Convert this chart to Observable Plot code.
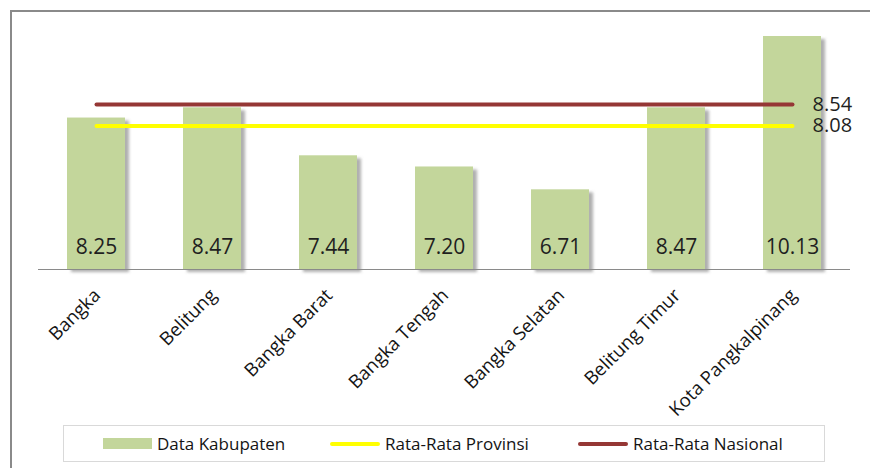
<!DOCTYPE html>
<html>
<head>
<meta charset="utf-8">
<script src="https://cdn.jsdelivr.net/npm/d3@7"></script>
<script src="https://cdn.jsdelivr.net/npm/@observablehq/plot@0.6"></script>
<style>
  html, body { margin: 0; padding: 0; background: #fff; overflow: hidden; }
  #wrap { position: relative; width: 870px; height: 468px; }
  #frame { position: absolute; left: 10px; top: 10px; width: 900px; height: 500px;
           border: 2px solid #8a8a8a; box-sizing: border-box; pointer-events: none; }
  #chart svg { display: block; }
  #legend { position: absolute; left: 63px; top: 425px; width: 762px; height: 37px;
            box-sizing: border-box; border: 1px solid #d9d9d9; background: #fff;
            display: flex; align-items: center; padding-left: 39px;
            font-family: "Open Sans", sans-serif; font-size: 17px; color: #141414; }
  .sw { display: inline-block; width: 49px; height: 11px; margin-right: 5px; flex: none; }
  .ln { display: inline-block; width: 50px; height: 4px; border-radius: 2px; margin-right: 5px; flex: none; }
  .lt { display: inline-block; white-space: nowrap; }
</style>
</head>
<body>
<div id="wrap">
  <div id="chart"></div>
  <div id="legend"></div>
  <div id="frame"></div>
</div>
<script>
const categories = ["Bangka", "Belitung", "Bangka Barat", "Bangka Tengah", "Bangka Selatan", "Belitung Timur", "Kota Pangkalpinang"];
const values = [8.25, 8.47, 7.44, 7.20, 6.71, 8.47, 10.13];
const rataProvinsi = 8.08;
const rataNasional = 8.54;
const yDomain = [5, 10];
const seriesNames = ["Data Kabupaten", "Rata-Rata Provinsi", "Rata-Rata Nasional"];
const seriesColors = ["#c3d69b", "#ffff00", "#953735"];

const data = categories.map((name, i) => ({name, value: values[i]}));
const yMin = yDomain[0], yMax = yDomain[1];
const provLine = categories.map(name => ({name, value: rataProvinsi}));
const nasLine = categories.map(name => ({name, value: rataNasional}));
const lastCat = categories[categories.length - 1];
const avgLabels = [
  {name: lastCat, value: rataNasional},
  {name: lastCat, value: rataProvinsi}
];

const font = "'Open Sans', sans-serif";

const chart = Plot.plot({
  width: 870,
  height: 426,
  marginTop: 36,
  marginBottom: 157,
  marginLeft: 38,
  marginRight: 20,
  style: {fontFamily: font, color: "#1a1a1a", background: "transparent"},
  x: {domain: categories, paddingInner: 0.5, paddingOuter: 0.25, axis: null},
  y: {domain: yDomain, axis: null},
  marks: [
    Plot.rectY(data, {x: "name", y1: () => yMin, y2: d => Math.min(d.value, yMax),
      fill: "#6f6f6f", fillOpacity: 0.55, dx: 4, dy: 3}),
    Plot.barY(data, {x: "name", y1: () => yMin, y2: d => Math.min(d.value, yMax), fill: seriesColors[0]}),
    Plot.ruleY([yMin], {stroke: "#8a8a8a", strokeWidth: 1.2}),
    Plot.text(data, {x: "name", text: d => d.value.toFixed(2), frameAnchor: "bottom",
      dy: -16, lineAnchor: "bottom", fontSize: 21, fill: "#1f1f1f"}),
    Plot.lineY(nasLine, {x: "name", y: "value", stroke: seriesColors[2], strokeWidth: 4, strokeLinecap: "round"}),
    Plot.lineY(provLine, {x: "name", y: "value", stroke: seriesColors[1], strokeWidth: 4, strokeLinecap: "round"}),
    Plot.text(avgLabels, {x: "name", y: "value", text: d => d.value.toFixed(2),
      textAnchor: "start", lineAnchor: "middle", dx: 20, fontSize: 20, fill: "#1f1f1f"}),
    Plot.text(categories, {x: d => d, text: d => d, frameAnchor: "bottom", rotate: -45,
      textAnchor: "end", lineAnchor: "bottom", dx: 5, dy: 27, fontSize: 18.5, fill: "#141414"})
  ]
});

// soft shadow for bars
const svg = d3.select(chart);
const defs = svg.insert("defs", ":first-child");
defs.append("filter").attr("id", "barShadow").attr("x", "-20%").attr("y", "-20%")
  .attr("width", "140%").attr("height", "140%")
  .append("feGaussianBlur").attr("stdDeviation", 1.6);
svg.select("g[aria-label='rect']").attr("filter", "url(#barShadow)");

document.getElementById("chart").appendChild(chart);

// legend
const textWidths = ["173px", "193px", "auto"];
const legend = d3.select("#legend");
seriesNames.forEach((name, i) => {
  const item = legend.append("div").style("display", "flex").style("align-items", "center");
  item.append("span").attr("class", i === 0 ? "sw" : "ln").style("background", seriesColors[i]);
  item.append("span").attr("class", "lt").style("width", textWidths[i]).text(name);
});
</script>
</body>
</html>
